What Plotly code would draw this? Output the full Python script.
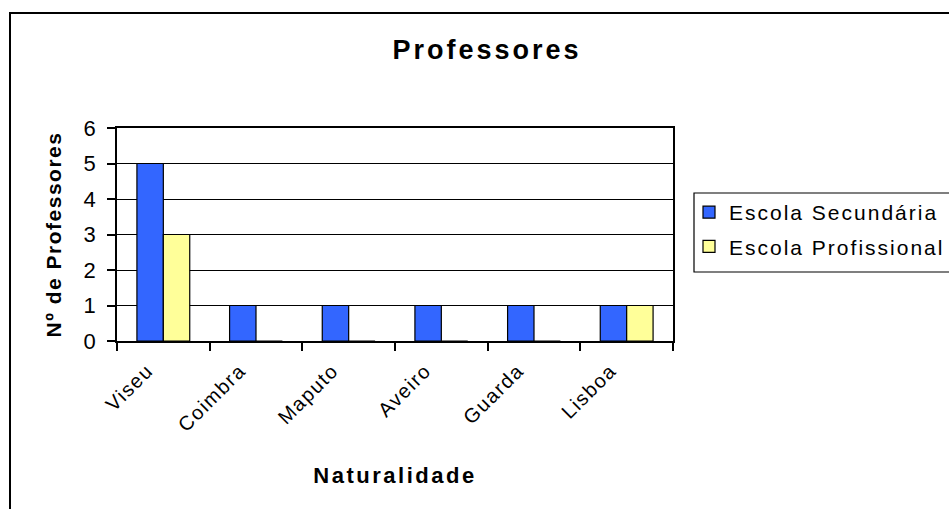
import plotly.graph_objects as go

# Naturalidade dos professores por tipo de escola
cidades = ["Viseu", "Coimbra", "Maputo", "Aveiro", "Guarda", "Lisboa"]
escola_secundaria = [5, 1, 1, 1, 1, 1]
escola_profissional = [3, 0, 0, 0, 0, 1]
y_ticks = [0, 1, 2, 3, 4, 5, 6]

W, H = 949, 509
# plot-area edges in pixels
PL, PR, PT, PB = 117, 673, 128, 341


def px(x):
    return (x - PL) / (PR - PL)


def py(y):
    return (PB - y) / (PB - PT)


FONT = "Arial, Liberation Sans, sans-serif"
EDGE = dict(color="black", width=1.2)

fig = go.Figure()
fig.add_bar(name="Escola Secundária", x=cidades, y=escola_secundaria,
            marker=dict(color="#3366FF", line=EDGE), legendgroup="sec")
fig.add_bar(name="Escola Profissional", x=cidades, y=escola_profissional,
            marker=dict(color="#FFFF99", line=EDGE), legendgroup="prof")

fig.update_layout(
    width=W, height=H,
    margin=dict(l=PL, r=W - PR, t=PT, b=H - PB, autoexpand=False),
    paper_bgcolor="white", plot_bgcolor="white",
    font=dict(family=FONT, color="black"),
    barmode="group", bargap=0.43, bargroupgap=0,
    title=dict(text="<b>Professores</b>", font=dict(size=27),
               xref="container", x=487 / W, xanchor="center",
               yref="container", y=1 - 40 / H, yanchor="top"),
    legend=dict(x=px(689), y=py(192), xanchor="left", yanchor="top",
                bgcolor="rgba(0,0,0,0)", borderwidth=0,
                font=dict(size=21), tracegroupgap=4, traceorder="grouped"),
    showlegend=True,
)

fig.update_yaxes(
    range=[0, 6], tickvals=y_ticks, showgrid=True, gridcolor="black", gridwidth=1,
    showline=True, linecolor="black", linewidth=1.5, mirror=True,
    zeroline=False, ticks="outside", ticklen=8, tickcolor="black", tickwidth=1.5,
    tickfont=dict(size=22), ticklabelstandoff=7,
    title=dict(text="<b>Nº de Professores</b>", font=dict(size=21), standoff=16),
)
fig.update_xaxes(
    showline=True, linecolor="black", linewidth=2, mirror=True,
    ticks="outside", tickson="boundaries", ticklen=8, tickcolor="black", tickwidth=1.5,
    tickangle=-45, tickfont=dict(size=20), ticklabelstandoff=8, ticklabelshift=-16,
    title=dict(text="<b>Naturalidade</b>", font=dict(size=22), standoff=40),
)

# chart-area frame and legend frame
fig.add_shape(type="rect", xref="paper", yref="paper",
              x0=px(10), y0=py(13), x1=px(1000), y1=py(560),
              line=dict(color="black", width=2), layer="below")
fig.add_shape(type="rect", xref="paper", yref="paper",
              x0=px(694), y0=py(193), x1=px(1000), y1=py(272),
              line=dict(color="black", width=1.2), layer="below")

spacing_css = """
var s = document.createElement('style');
s.textContent = '.gtitle{letter-spacing:3px}' +
  '.legendtext{letter-spacing:2px}' +
  '.legend .scrollbox{clip-path:none}' +
  '.ytitle{letter-spacing:1.5px}' +
  '.xtitle{letter-spacing:2.5px}' +
  '.xtick text{letter-spacing:1.5px}';
document.head.appendChild(s);
"""

fig.write_html("out.html", post_script=spacing_css)
